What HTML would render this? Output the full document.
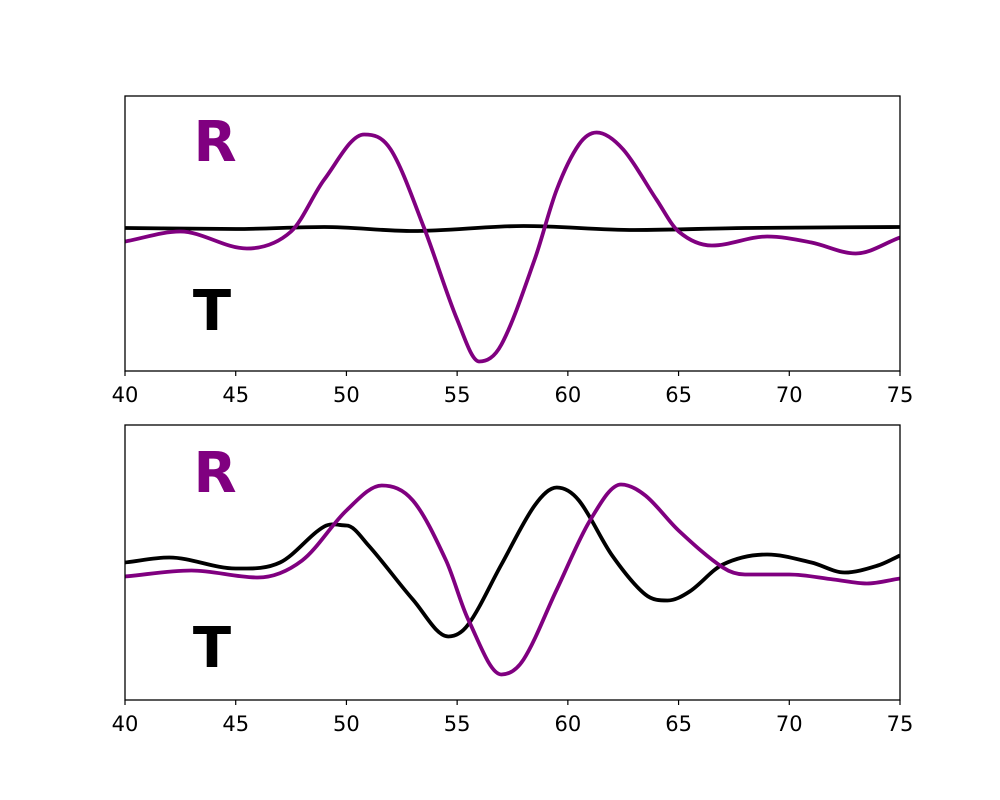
<!DOCTYPE html>
<html><head><meta charset="utf-8"><style>
body{margin:0;background:#fff}
svg{display:block}
text{font-family:"DejaVu Sans","Liberation Sans",sans-serif}
</style></head><body>
<svg id="chart" width="1000" height="800"></svg>
<script>
// x-axis ticks
const xTicks=[40,45,50,55,60,65,70,75];
// Top panel series (relative amplitude)
const topRX=[40,42.5,45.5,47.5,49,50.8,52,53.5,55,56,57,58.5,59.5,60.5,61.3,62.5,64,65,66.5,69,71,73,75];
const topRY=[-0.08,0.02,-0.15,0.02,0.54,0.99,0.84,0.06,-0.86,-1.28,-1.11,-0.26,0.44,0.89,1.01,0.84,0.34,0.02,-0.12,-0.03,-0.09,-0.2,-0.04];
const topTX=[40,45,49,53,58,63,68,75];
const topTY=[0.055,0.045,0.065,0.025,0.075,0.035,0.055,0.065];
// Bottom panel series
const botRX=[40,43,46,48,50,51.6,53,54.5,55.5,57,58,59.5,61,62.4,63.5,65,67,68,70,72,73.5,75];
const botRY=[-0.14,-0.08,-0.15,0.02,0.52,0.77,0.62,0.02,-0.57,-1.12,-0.97,-0.27,0.42,0.78,0.67,0.32,-0.05,-0.12,-0.12,-0.17,-0.21,-0.16];
const botTX=[40,42,45,47,49,50,51,53,54.6,55.5,57,58.5,59.5,60.5,62,63.5,64.5,65.5,67,69,71,72.5,74,75];
const botTY=[0,0.05,-0.06,0,0.36,0.37,0.17,-0.37,-0.74,-0.62,-0.02,0.57,0.75,0.62,0.07,-0.32,-0.38,-0.29,-0.02,0.08,0,-0.1,-0.03,0.07];

const svg=document.getElementById('chart');
const NS='http://www.w3.org/2000/svg';
function mk(t,a,p){const e=document.createElementNS(NS,t);for(const k in a)e.setAttribute(k,a[k]);(p||svg).appendChild(e);return e;}
const X0=125,X1=900;
function xs(v){return X0+(v-40)/(75-40)*(X1-X0);}
function path(xArr,yArr,ys){
  const n=xArr.length;
  const p=xArr.map((x,i)=>[xs(x),ys(yArr[i])]);
  const m=p.map((q,i)=>{
    const a=p[Math.max(0,i-1)],b=p[Math.min(n-1,i+1)];
    // zero slope at local extrema
    if(i>0&&i<n-1){const d1=p[i][1]-a[1],d2=b[1]-p[i][1];if(d1*d2<=0)return 0;}
    return (b[1]-a[1])/(b[0]-a[0]);
  });
  let d='M'+p[0][0]+','+p[0][1];
  for(let i=0;i<n-1;i++){
    const dx=(p[i+1][0]-p[i][0])/3;
    d+=`C${p[i][0]+dx},${p[i][1]+m[i]*dx} ${p[i+1][0]-dx},${p[i+1][1]-m[i+1]*dx} ${p[i+1][0]},${p[i+1][1]}`;
  }
  return d;
}
function panel(name,top,bottom,rX,rY,tX,tY,rLab,tLab){
  const mid=(top+bottom)/2;
  const ys=v=>mid-v*100;
  const g=mk('g',{});
  
  
  const cp=mk('clipPath',{id:'c'+name},g);
  mk('rect',{x:X0,y:top,width:X1-X0,height:bottom-top},cp);
  const t=mk('path',{d:path(tX,tY,ys),fill:'none',stroke:'#000','stroke-width':3.8,'clip-path':`url(#c${name})`},g);
  
  
  const r=mk('path',{d:path(rX,rY,ys),fill:'none',stroke:'#800080','stroke-width':3.8,'clip-path':`url(#c${name})`},g);
  
  
  const fr=mk('rect',{x:X0,y:top,width:X1-X0,height:bottom-top,fill:'none',stroke:'#000','stroke-width':1.3},g);
  
  
  xTicks.forEach(v=>{
    mk('line',{x1:xs(v),x2:xs(v),y1:bottom,y2:bottom+5,stroke:'#000','stroke-width':1.2},g);
    const tx=mk('text',{x:xs(v),y:bottom+31,'text-anchor':'middle','font-size':21},g);
    tx.textContent=v;
    
    
  });
  const lr=mk('text',{x:215,y:rLab,'text-anchor':'middle','font-size':56,'font-weight':'bold',fill:'#800080'},g);
  lr.textContent='R';
  
  
  const lt=mk('text',{x:212,y:tLab,'text-anchor':'middle','font-size':56,'font-weight':'bold',fill:'#000'},g);
  lt.textContent='T';
  
  
}
panel('top-panel',96,371,topRX,topRY,topTX,topTY,161,330);
panel('bottom-panel',425,700,botRX,botRY,botTX,botTY,492,667);
</script>
</body></html>
